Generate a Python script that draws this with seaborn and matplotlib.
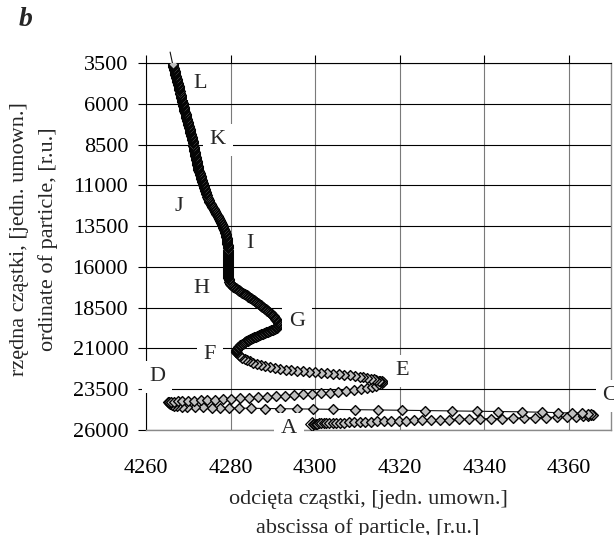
import matplotlib
matplotlib.use("Agg")
import matplotlib.pyplot as plt
import pandas as pd
import seaborn as sns

sns.set_theme(style="white")
plt.rcParams['font.family'] = ['Liberation Serif', 'DejaVu Serif']
plt.rcParams['font.size'] = 16

# ---------------- data (trajectory) ----------------
# exit point of the path above the top of the plot (no marker)
exit_x = [4265.7]
exit_y = [2830]

# L -> K : upper nearly vertical band
band1_x = [4266.30, 4266.35, 4266.40, 4266.50, 4266.60, 4266.65, 4266.70, 4266.75, 4266.80, 4266.85,
           4266.90, 4266.95, 4267.00, 4267.10, 4267.20, 4267.25, 4267.30, 4267.35, 4267.40, 4267.45,
           4267.50, 4267.60, 4267.70, 4267.75, 4267.80, 4267.85, 4267.90, 4267.95, 4268.00, 4268.10,
           4268.20, 4268.25, 4268.30, 4268.35, 4268.40, 4268.45, 4268.50, 4268.60, 4268.70, 4268.75,
           4268.80, 4268.85, 4268.90, 4268.95, 4269.00, 4269.05, 4269.10, 4269.20, 4269.30, 4269.35,
           4269.40, 4269.45, 4269.50, 4269.55, 4269.60, 4269.70, 4269.80, 4269.85, 4269.90, 4269.95,
           4270.00, 4270.05, 4270.10, 4270.20, 4270.30, 4270.35, 4270.40, 4270.45, 4270.50, 4270.55,
           4270.60, 4270.70, 4270.80, 4270.85, 4270.90, 4270.95, 4271.00, 4271.05, 4271.10, 4271.15,
           4271.20, 4271.25, 4271.30, 4271.35, 4271.40, 4271.45, 4271.50]
band1_y = [3560, 3622, 3685, 3747, 3810, 3872, 3935, 3997, 4060, 4122,
           4185, 4247, 4310, 4372, 4435, 4497, 4560, 4622, 4685, 4747,
           4810, 4872, 4935, 4997, 5060, 5122, 5185, 5247, 5310, 5372,
           5435, 5497, 5560, 5622, 5685, 5747, 5810, 5872, 5935, 5997,
           6060, 6122, 6185, 6247, 6310, 6372, 6435, 6497, 6560, 6622,
           6685, 6747, 6810, 6872, 6935, 6997, 7060, 7122, 7185, 7247,
           7310, 7372, 7435, 7497, 7560, 7622, 7685, 7747, 7810, 7872,
           7935, 7997, 8060, 8122, 8185, 8247, 8310, 8372, 8435, 8497,
           8560, 8622, 8685, 8747, 8810, 8872, 8935]

# K -> J -> I -> H
band2_x = [4271.55, 4271.60, 4271.65, 4271.70, 4271.75, 4271.80, 4271.85, 4271.90, 4271.95, 4272.00,
           4272.05, 4272.10, 4272.15, 4272.20, 4272.25, 4272.30, 4272.35, 4272.40, 4272.50, 4272.60,
           4272.65, 4272.70, 4272.80, 4272.90, 4272.95, 4273.00, 4273.10, 4273.20, 4273.25, 4273.30,
           4273.40, 4273.50, 4273.55, 4273.60, 4273.70, 4273.80, 4273.85, 4273.90, 4274.00, 4274.10,
           4274.20, 4274.30, 4274.40, 4274.50, 4274.60, 4274.70, 4274.80, 4274.90, 4275.00, 4275.10,
           4275.25, 4275.40, 4275.55, 4275.70, 4275.85, 4276.00, 4276.10, 4276.20, 4276.35, 4276.50,
           4276.65, 4276.80, 4276.95, 4277.10, 4277.20, 4277.30, 4277.45, 4277.60, 4277.70, 4277.80,
           4277.90, 4278.00, 4278.10, 4278.20, 4278.30, 4278.40, 4278.50, 4278.60, 4278.65, 4278.70,
           4278.80, 4278.90, 4278.95, 4279.00, 4279.05, 4279.10, 4279.15, 4279.20, 4279.20, 4279.20,
           4279.25, 4279.30, 4279.30, 4279.30, 4279.30, 4279.30, 4279.30, 4279.30, 4279.30, 4279.30,
           4279.35, 4279.40, 4279.40, 4279.40, 4279.40, 4279.40, 4279.40, 4279.40, 4279.40, 4279.40,
           4279.40, 4279.40, 4279.40, 4279.40, 4279.40, 4279.40, 4279.40, 4279.40, 4279.45, 4279.50,
           4279.50, 4279.50, 4279.50, 4279.50, 4279.55, 4279.60]
band2_y = [8997, 9060, 9122, 9185, 9247, 9310, 9372, 9435, 9497, 9560,
           9622, 9685, 9747, 9810, 9872, 9935, 9997, 10060, 10122, 10185,
           10247, 10310, 10372, 10435, 10497, 10560, 10622, 10685, 10747, 10810,
           10872, 10935, 10997, 11060, 11122, 11185, 11247, 11310, 11372, 11435,
           11497, 11560, 11622, 11685, 11747, 11810, 11872, 11935, 11997, 12060,
           12122, 12185, 12247, 12310, 12372, 12435, 12497, 12560, 12622, 12685,
           12747, 12810, 12872, 12935, 12997, 13060, 13122, 13185, 13247, 13310,
           13372, 13435, 13497, 13560, 13622, 13685, 13747, 13810, 13872, 13935,
           13997, 14060, 14122, 14185, 14247, 14310, 14372, 14435, 14497, 14560,
           14622, 14685, 14747, 14810, 14872, 14935, 14997, 15060, 15122, 15185,
           15247, 15310, 15372, 15435, 15497, 15560, 15622, 15685, 15747, 15810,
           15872, 15935, 15997, 16060, 16122, 16185, 16247, 16310, 16372, 16435,
           16497, 16560, 16622, 16685, 16747, 16810]

# H -> G -> F loop
loop_x = [4279.7, 4279.8, 4279.9, 4280.1, 4280.3, 4280.45, 4280.6, 4280.8, 4281.0, 4281.25,
          4281.5, 4281.7, 4281.9, 4282.1, 4282.3, 4282.5, 4282.7, 4282.95, 4283.2, 4283.4,
          4283.6, 4283.8, 4284.0, 4284.2, 4284.4, 4284.65, 4284.9, 4285.1, 4285.3, 4285.5,
          4285.7, 4285.9, 4286.1, 4286.3, 4286.5, 4286.7, 4286.9, 4287.1, 4287.3, 4287.5,
          4287.7, 4287.9, 4288.1, 4288.3, 4288.5, 4288.7, 4288.9, 4289.1, 4289.3, 4289.45,
          4289.6, 4289.8, 4290.0, 4290.15, 4290.3, 4290.45, 4290.6, 4290.7, 4290.8, 4290.95,
          4291.1, 4291.2, 4291.3, 4291.35, 4291.3, 4291.25, 4291.2, 4291.05, 4290.9, 4290.7,
          4290.5, 4290.25, 4290.0, 4289.8, 4289.6, 4289.35, 4289.1, 4288.85, 4288.6, 4288.4,
          4288.2, 4287.95, 4287.7, 4287.45, 4287.2, 4286.95, 4286.7, 4286.5, 4286.3, 4286.05,
          4285.8, 4285.55, 4285.3, 4285.1, 4284.9, 4284.65, 4284.4, 4284.2, 4284.0, 4283.75,
          4283.5, 4283.3, 4283.1, 4282.9, 4282.7, 4282.5, 4282.3, 4282.15, 4282.0, 4281.85,
          4281.7, 4281.55, 4281.4, 4281.35, 4281.3, 4281.3, 4281.3]
loop_y = [16934, 16986, 17038, 17084, 17130, 17170, 17210, 17247, 17284, 17320,
          17357, 17394, 17431, 17467, 17504, 17537, 17571, 17605, 17639, 17675,
          17712, 17749, 17786, 17822, 17859, 17896, 17933, 17972, 18012, 18049,
          18086, 18123, 18160, 18200, 18239, 18279, 18319, 18358, 18398, 18438,
          18478, 18518, 18558, 18597, 18637, 18680, 18723, 18766, 18809, 18852,
          18895, 18941, 18987, 19032, 19078, 19124, 19170, 19219, 19268, 19317,
          19366, 19415, 19464, 19513, 19562, 19608, 19654, 19691, 19728, 19758,
          19789, 19816, 19844, 19868, 19893, 19917, 19942, 19966, 19991, 20015,
          20040, 20064, 20089, 20113, 20138, 20162, 20187, 20214, 20242, 20269,
          20297, 20325, 20353, 20380, 20408, 20438, 20469, 20499, 20530, 20564,
          20598, 20631, 20665, 20702, 20739, 20775, 20812, 20852, 20892, 20934,
          20977, 21023, 21069, 21115, 21161, 21201, 21241]

# F -> E
fe_x = [4281.5, 4281.9, 4282.2, 4282.7, 4283.3, 4283.9, 4284.6, 4285.4, 4286.2, 4287.2,
        4288.2, 4289.3, 4290.5, 4291.7, 4293.0, 4294.3, 4295.7, 4297.1, 4298.5, 4300.0,
        4301.4, 4302.8, 4304.2, 4305.6, 4306.9, 4308.2, 4309.4, 4310.5, 4311.4, 4312.2,
        4313.1, 4313.8, 4314.4, 4315.0, 4315.4, 4315.8, 4316.0]
fe_y = [21296, 21388, 21492, 21572, 21651, 21725, 21798, 21866, 21927, 21988,
        22049, 22111, 22178, 22246, 22307, 22344, 22374, 22399, 22429, 22460,
        22491, 22521, 22552, 22589, 22625, 22656, 22693, 22736, 22778, 22821,
        22858, 22895, 22932, 22968, 22999, 23024, 23042]

# E -> D
ed_x = [4315.7, 4315.1, 4314.4, 4313.4, 4312.2, 4310.8, 4309.2, 4307.3, 4305.4, 4303.4,
        4301.4, 4299.2, 4297.1, 4295.0, 4292.9, 4290.7, 4288.6, 4286.5, 4284.3, 4282.2,
        4280.2, 4278.2, 4276.3, 4274.5, 4272.9, 4271.3, 4269.9, 4268.6, 4267.6, 4266.6,
        4265.9, 4265.4, 4265.2]
ed_y = [23122, 23201, 23275, 23348, 23422, 23489, 23550, 23606, 23655, 23703,
        23740, 23777, 23814, 23851, 23887, 23924, 23961, 23991, 24022, 24053,
        24083, 24108, 24132, 24157, 24175, 24194, 24212, 24230, 24243, 24255,
        24267, 24273, 24279]

# D -> C
dc_x = [4265.4, 4265.7, 4266.1, 4266.7, 4267.3, 4268.5, 4269.7, 4271.6, 4273.5, 4275.6,
        4277.5, 4279.6, 4282.0, 4284.8, 4288.1, 4291.7, 4295.7, 4299.5, 4304.2, 4309.4,
        4314.8, 4320.5, 4326.0, 4332.3, 4338.3, 4343.2, 4348.9, 4353.6, 4357.4, 4360.7,
        4363.1, 4364.5, 4365.3, 4365.7]
dc_y = [24328, 24390, 24451, 24500, 24530, 24561, 24580, 24598, 24610, 24622,
        24635, 24647, 24659, 24671, 24684, 24696, 24708, 24720, 24739, 24757,
        24776, 24794, 24812, 24831, 24849, 24867, 24886, 24910, 24935, 24959,
        24984, 25008, 25033, 25064]

# C -> A
ca_x = [4365.2, 4364.5, 4363.3, 4361.7, 4359.5, 4357.2, 4354.6, 4352.0, 4349.4, 4346.8,
        4344.2, 4341.6, 4339.0, 4336.4, 4334.0, 4331.6, 4329.5, 4327.4, 4325.3, 4323.4,
        4321.5, 4319.7, 4317.9, 4316.3, 4314.7, 4313.2, 4311.8, 4310.5, 4309.2, 4308.0,
        4306.9, 4305.9, 4304.9, 4304.1, 4303.3, 4302.6, 4302.0, 4301.4, 4300.9, 4300.4,
        4300.1, 4299.7, 4299.5]
ca_y = [25100, 25137, 25162, 25180, 25198, 25217, 25235, 25253, 25266, 25278,
        25296, 25309, 25321, 25333, 25345, 25358, 25370, 25382, 25394, 25407,
        25419, 25431, 25443, 25456, 25468, 25480, 25492, 25505, 25517, 25529,
        25541, 25554, 25560, 25566, 25572, 25578, 25584, 25591, 25597, 25603,
        25609, 25615, 25621]

# starting point A (highlighted marker)
start_x = [4299.2]
start_y = [25627]

# point labels
lab_text = ['L', 'K', 'J', 'I', 'H', 'G', 'F', 'E', 'D', 'C', 'A']
lab_x = [4272.8, 4277.0, 4267.8, 4284.6, 4273.2, 4295.7, 4275.1, 4320.5, 4262.6, 4369.7, 4293.8]
lab_y = [4784, 8215, 12319, 14586, 17342, 19364, 21385, 22366, 22733, 23897, 25919]

x_ticks = [4260, 4280, 4300, 4320, 4340, 4360]
y_ticks = [3500, 6000, 8500, 11000, 13500, 16000, 18500, 21000, 23500, 26000]
x_label = "odcięta cząstki, [jedn. umown.]\nabscissa of particle, [r.u.]"
y_label = "rzędna cząstki, [jedn. umown.]\nordinate of particle, [r.u.]"
panel = "b"

# ---------------- build path in time order (A -> ... -> L -> exit) ----------------
seg_x = exit_x + band1_x + band2_x + loop_x + fe_x + ed_x + dc_x + ca_x + start_x
seg_y = exit_y + band1_y + band2_y + loop_y + fe_y + ed_y + dc_y + ca_y + start_y
path = pd.DataFrame({"x": seg_x[::-1], "y": seg_y[::-1]})
pts = path.iloc[1:-1]          # markers (without start point and exit point)
start = path.iloc[:1]

# ---------------- figure ----------------
fig = plt.figure(figsize=(6.14, 5.35), dpi=100)
ax = fig.add_axes([146 / 614, 1 - 430 / 535, 465.3 / 614, 367 / 535])

sns.lineplot(data=path, x="x", y="y", sort=False, estimator=None, color="#111111",
             lw=0.8, ax=ax, clip_on=False, zorder=3)
sns.scatterplot(data=start, x="x", y="y", marker="D", s=48, color="white",
                edgecolor="black", linewidth=0.9, ax=ax, zorder=4)
sns.scatterplot(data=pts, x="x", y="y", marker="D", s=25, color="#c0c0c0",
                edgecolor="#050505", linewidth=1.0, ax=ax, zorder=4)

ax.set_xlim(4260, 4370)
ax.set_ylim(26000, 3500)
ax.set_xticks(x_ticks)
ax.set_yticks(y_ticks)
ax.set_xticklabels([str(v) for v in x_ticks])
ax.set_yticklabels([str(v) for v in y_ticks])

ax.set_axisbelow(True)
ax.grid(True, axis="y", color="black", lw=0.8)
ax.grid(True, axis="x", color="#7a7a7a", lw=0.8)

for side in ["left", "top"]:
    ax.spines[side].set_color("black")
    ax.spines[side].set_linewidth(0.8)
for side in ["right", "bottom"]:
    ax.spines[side].set_color("#8a8a8a")
    ax.spines[side].set_linewidth(1.0)

ax.tick_params(axis="y", which="major", left=True, direction="out", length=5.8,
               width=0.8, color="black", pad=7, labelsize=16, labelcolor="black")
ax.tick_params(axis="x", which="major", bottom=False, top=True, labelbottom=True,
               labeltop=False, direction="out", length=5.8, width=0.8, color="black",
               pad=15, labelsize=16, labelcolor="black")

ax.set_xlabel(x_label, fontsize=16, linespacing=1.55, va="center", ha="center")
ax.xaxis.set_label_coords((368 - 146) / 465.3, (430 - 514) / 367)
ax.set_ylabel(y_label, fontsize=16, linespacing=1.55, va="center", ha="center")
ax.yaxis.set_label_coords((34 - 146) / 465.3, (430 - 239) / 367)

for t, lx, ly in zip(lab_text, lab_x, lab_y):
    ax.text(lx, ly, t, fontsize=16, ha="center", va="center", zorder=5, clip_on=False,
            bbox=dict(boxstyle="square,pad=0.3", fc="white", ec="none"))

fig.text(26 / 614, 1 - 20 / 535, panel, fontsize=20, fontweight="bold", fontstyle="italic",
         ha="center", va="center")

fig.savefig("out.png", dpi=100)
